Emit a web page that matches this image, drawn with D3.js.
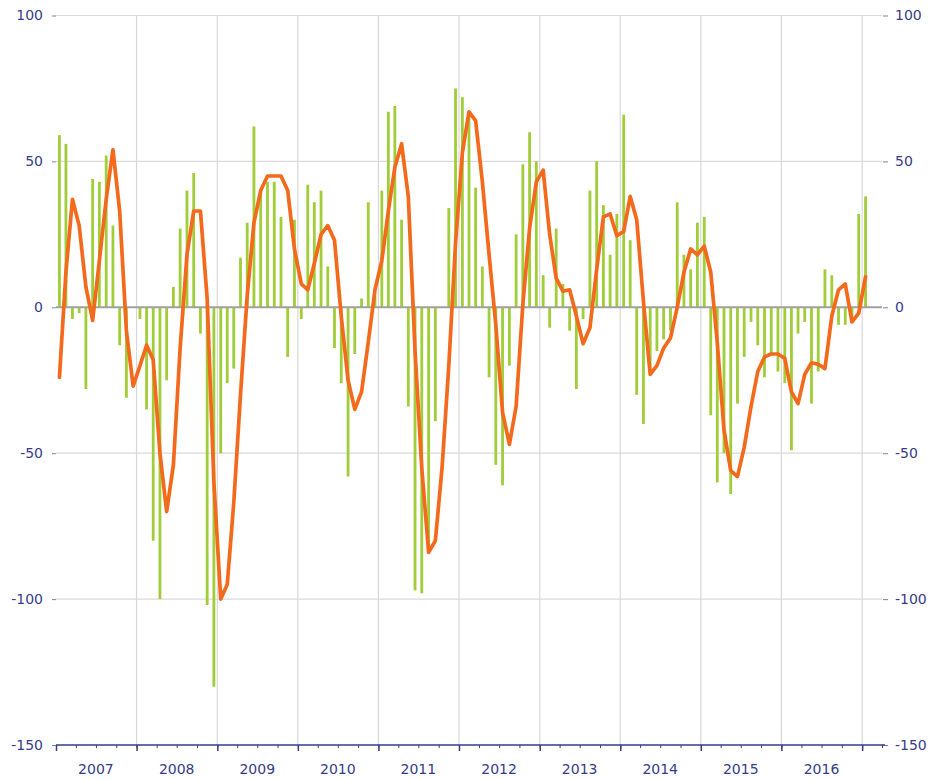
<!DOCTYPE html>
<html>
<head>
<meta charset="utf-8">
<script src="https://cdn.jsdelivr.net/npm/d3@7"></script>
<style>
  body { margin: 0; background: #fff; }
  svg { display: block; font-family: "DejaVu Sans", sans-serif; }
</style>
</head>
<body>
<svg id="chart" width="928" height="779"></svg>
<script>
// monthly values, Jan 2007 .. Jan 2017
const firstMonth = new Date(2007, 0, 1);

const barValues = [
  59, 56, -4, -2, -28, 44, 43, 52, 28, -13, -31, 0,        // 2007
  -4, -35, -80, -100, -25, 7, 27, 40, 46, -9, -102, -130,  // 2008
  -50, -26, -21, 17, 29, 62, 40, 43, 43, 31, -17, 30,      // 2009
  -4, 42, 36, 40, 14, -14, -26, -58, -16, 3, 36, 4,        // 2010
  40, 67, 69, 30, -34, -97, -98, -82, -39, 0, 34, 75,      // 2011
  72, 67, 41, 14, -24, -54, -61, -20, 25, 49, 60, 50,      // 2012
  11, -7, 27, 8, -8, -28, -4, 40, 50, 35, 18, 32,          // 2013
  66, 23, -30, -40, -21, -15, -11, -8, 36, 18, 13, 29,     // 2014
  31, -37, -60, -50, -64, -33, -17, -5, -13, -24, -16, -22,// 2015
  -26, -49, -9, -5, -33, -22, 13, 11, -6, -6, -5, 32,      // 2016
  38                                                       // 2017
];

const trendValues = [
  -24, 12, 37, 28, 7, -4.5, 16, 37, 54, 33, -8, -27,
  -20, -13, -18, -50, -70, -54, -14, 18, 33, 33, 3, -60,
  -100, -95, -67, -30, 4, 29, 40, 45, 45, 45, 40, 20,
  8, 6, 15, 25, 28, 23, -3, -25, -35, -29, -12, 6,
  16, 33, 48, 56, 38, -15, -55, -84, -80, -55, -20, 22,
  53, 67, 64, 43, 18, -6, -36, -47, -34, 1, 27, 43,
  47, 25, 10, 5.5, 6, -3, -12.5, -7, 13, 31, 32, 24.5,
  26, 38, 30, 2, -23, -20, -14, -10.5, 0, 12, 20, 18,
  21, 12, -12, -42, -56, -58, -48, -34, -22, -17, -16, -16,
  -17.5, -29, -33, -23, -19, -19.5, -21, -3, 6, 8, -5, -2,
  10.5
];

const yearLabels = ["2007", "2008", "2009", "2010", "2011", "2012", "2013", "2014", "2015", "2016"];
const yTicks = [100, 50, 0, -50, -100, -150];

const svg = d3.select("#chart");
const plotLeft = 56, plotRight = 882, plotTop = 15.5, plotBottom = 745;
const textColor = "#363c8a";

const x = d3.scaleTime()
  .domain([firstMonth, new Date(2017, 3, 1)])
  .range([plotLeft, plotRight]);
const y = d3.scaleLinear().domain([-150, 100]).range([plotBottom, plotTop]);

// month midpoints
const months = barValues.map((v, i) => {
  const m = d3.timeMonth.offset(firstMonth, i);
  const n = d3.timeMonth.offset(firstMonth, i + 1);
  return new Date((+m + +n) / 2);
});

// grid
const grid = svg.append("g");
grid.selectAll("line.h")
  .data(yTicks.filter(d => d !== 0 && d !== -150))
  .join("line")
  .attr("class", "h")
  .attr("x1", plotLeft).attr("x2", plotRight)
  .attr("y1", d => y(d)).attr("y2", d => y(d))
  .attr("stroke", "#dadada").attr("stroke-width", 1.2);

const yearStarts = d3.range(2008, 2018).map(yr => new Date(yr, 0, 1));
grid.selectAll("line.v")
  .data(yearStarts)
  .join("line")
  .attr("class", "v")
  .attr("x1", d => x(d)).attr("x2", d => x(d))
  .attr("y1", plotTop).attr("y2", plotBottom)
  .attr("stroke", "#d8d8d8").attr("stroke-width", 1.2);

// bars
svg.append("g").selectAll("rect")
  .data(barValues)
  .join("rect")
  .attr("x", (d, i) => x(months[i]) - 1.4)
  .attr("width", 2.8)
  .attr("y", d => Math.min(y(d), y(0)))
  .attr("height", d => Math.abs(y(d) - y(0)))
  .attr("fill", "#a0cd38");

// zero line
svg.append("line")
  .attr("x1", plotLeft).attr("x2", plotRight)
  .attr("y1", y(0)).attr("y2", y(0))
  .attr("stroke", "#a0a0a0").attr("stroke-width", 2);

// trend line
const line = d3.line()
  .x((d, i) => x(months[i]))
  .y(d => y(d));

svg.append("path")
  .datum(trendValues)
  .attr("d", line)
  .attr("fill", "none")
  .attr("stroke", "#f36a1c")
  .attr("stroke-width", 3.7)
  .attr("stroke-linejoin", "round")
  .attr("stroke-linecap", "round");

// y axes, both sides (plain hyphen for negatives)
const fmt = d => String(d);
const yLeft = svg.append("g")
  .attr("transform", `translate(${plotLeft},0)`)
  .call(d3.axisLeft(y).tickValues(yTicks).tickFormat(fmt).tickSize(4).tickPadding(9));
const yRight = svg.append("g")
  .attr("transform", `translate(${plotRight + 1},0)`)
  .call(d3.axisRight(y).tickValues(yTicks).tickFormat(fmt).tickSize(5).tickPadding(7));

[yLeft, yRight].forEach(g => {
  g.select(".domain").remove();
  g.selectAll(".tick line").attr("stroke", "#7a7fa8");
  g.selectAll(".tick text")
    .attr("fill", textColor)
    .style("font-size", "14px")
    .style("font-family", "DejaVu Sans, sans-serif");
});

// x axis
const xAxis = svg.append("g")
  .attr("transform", `translate(0,${plotBottom})`);

xAxis.append("g")
  .call(d3.axisBottom(x).ticks(d3.timeMonth.every(3)).tickSize(3).tickFormat(""))
  .call(g => g.select(".domain").remove())
  .call(g => g.selectAll(".tick line").attr("stroke", textColor));

xAxis.append("g")
  .call(d3.axisBottom(x).tickValues(d3.range(2007, 2018).map(yr => new Date(yr, 0, 1)))
    .tickSize(6).tickFormat(""))
  .call(g => g.select(".domain").remove())
  .call(g => g.selectAll(".tick line").attr("stroke", textColor).attr("stroke-width", 1.5));

xAxis.append("line")
  .attr("x1", plotLeft).attr("x2", plotRight + 3)
  .attr("stroke", textColor).attr("stroke-width", 1.5);

xAxis.append("g")
  .selectAll("text")
  .data(yearLabels)
  .join("text")
  .attr("x", d => x(new Date(+d, 6, 1)))
  .attr("y", 29)
  .attr("text-anchor", "middle")
  .attr("fill", textColor)
  .style("font-size", "14px")
  .text(d => d);
</script>
</body>
</html>
